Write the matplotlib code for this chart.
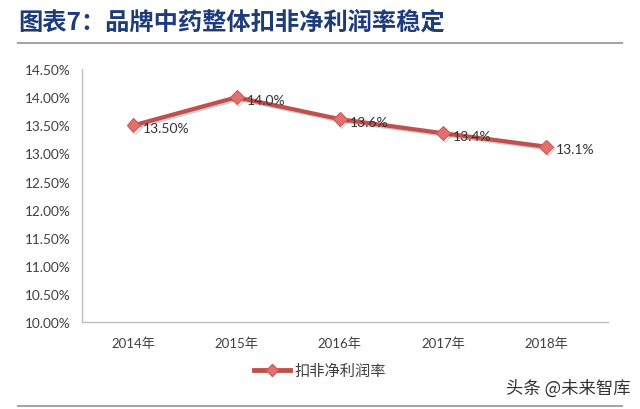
import matplotlib
matplotlib.use("Agg")
import matplotlib.pyplot as plt
import matplotlib.patheffects as pe
from matplotlib.lines import Line2D

plt.rcParams['font.family'] = ['Lato', 'Noto Sans CJK SC', 'DejaVu Sans']

# data
years = ['2014年', '2015年', '2016年', '2017年', '2018年']
margin = [13.50, 14.00, 13.61, 13.36, 13.12]
point_labels = ['13.50%', '14.0%', '13.6%', '13.4%', '13.1%']
y_ticks = [10.0, 10.5, 11.0, 11.5, 12.0, 12.5, 13.0, 13.5, 14.0, 14.5]
series_name = '扣非净利润率'
title = '图表7：品牌中药整体扣非净利润率稳定'
watermark = '头条 @未来智库'

line_red = '#C0504D'
marker_red = '#E0716E'
text_gray = '#404040'

fig = plt.figure(figsize=(6.4, 4.1), dpi=100)
ax = fig.add_axes([0.128, 0.212, 0.822, 0.617])

x = list(range(len(years)))
shadow = [pe.SimpleLineShadow(offset=(1.2, -1.2), alpha=0.2), pe.Normal()]
ax.plot(x, margin, color=line_red, lw=3, marker='D', ms=7,
        markerfacecolor=marker_red, markeredgecolor='#D05A57', mew=0.8,
        path_effects=shadow, zorder=3)

for xi, yi, lab in zip(x, margin, point_labels):
    ax.annotate(lab, (xi, yi), xytext=(7, -2), textcoords='offset points',
                ha='left', va='center', fontsize=10, color='#333333', zorder=4)

ax.set_xlim(-0.5, 4.6)
ax.set_ylim(10.0, 14.5)
ax.set_yticks(y_ticks)
ax.set_yticklabels(['%.2f%%' % v for v in y_ticks], fontsize=9.8, color=text_gray)
ax.set_xticks(x)
ax.set_xticklabels(years, fontsize=9.5, color=text_gray)
ax.tick_params(axis='both', length=0)
ax.tick_params(axis='y', pad=8)
ax.tick_params(axis='x', pad=10)

for side in ['top', 'right']:
    ax.spines[side].set_visible(False)
for side in ['left', 'bottom']:
    ax.spines[side].set_color('#BFBFBF')
    ax.spines[side].set_linewidth(1)

# legend
handle = Line2D([0], [0], color=line_red, lw=3.5, marker='D', ms=6,
                markerfacecolor=marker_red, markeredgecolor='#D05A57')
fig.legend([handle], [series_name], loc='center', bbox_to_anchor=(0.5, 0.093),
           frameon=False, fontsize=11, handlelength=2.4, handletextpad=0.3,
           labelcolor=text_gray)

# title and rules
fig.text(0.028, 0.946, title, fontsize=17.5, fontweight='bold', color='#1F3C7A',
         va='center', ha='left', family=['Noto Sans CJK SC', 'DejaVu Sans'])
fig.add_artist(Line2D([0.028, 0.972], [0.893, 0.893], color='#A6A6A6', lw=1.5))
fig.add_artist(Line2D([0.028, 0.972], [0.007, 0.007], color='#A6A6A6', lw=1.5))
fig.text(0.985, 0.053, watermark, fontsize=12.5, color='#333333', ha='right', va='center',
         family=['Noto Sans CJK SC', 'DejaVu Sans'])

fig.savefig('out.png', dpi=100, facecolor='white')
